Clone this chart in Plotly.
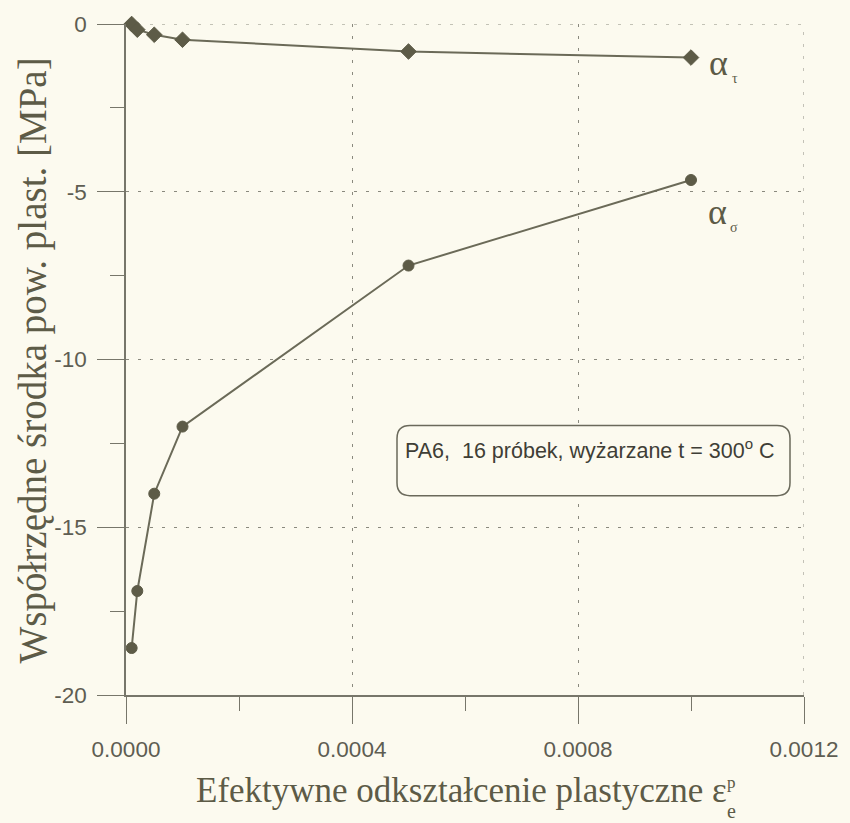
import plotly.graph_objects as go

# effective plastic strain at each measurement
strain = [0.00001, 0.00002, 0.00005, 0.0001, 0.0005, 0.001]
# centre coordinates of the yield surface [MPa]
alpha_tau = [0.0, -0.17, -0.32, -0.47, -0.82, -1.0]
alpha_sigma = [-18.6, -16.9, -14.0, -12.0, -7.2, -4.65]

x_ticks = [0.0, 0.0004, 0.0008, 0.0012]
x_tick_text = ["0.0000", "0.0004", "0.0008", "0.0012"]
y_ticks = [0, -5, -10, -15, -20]
y_tick_text = ["0", "-5", "-10", "-15", "-20"]
x_range = [0, 0.0012]
y_range = [-20, 0]

BG = "#fcfaef"
INK = "#5d5b47"
LINE = "#6b6a58"
AXIS = "#77766a"
GRID = "#8a897e"
GRID_DASH = "3px,9px"
TICKFONT = dict(family="Liberation Sans, Arial", size=22.5, color="#5e5d52")
SERIF = "Liberation Serif, Times New Roman"

W, H = 850, 823
ML, MR, MT, MB = 126, 46, 15, 128
PW, PH = W - ML - MR, H - MT - MB


def fx(px):
    return (px - ML) / PW


def fy(py):
    return (H - MB - py) / PH


fig = go.Figure()

fig.add_trace(go.Scatter(
    x=strain, y=alpha_tau, mode="lines+markers",
    line=dict(color=LINE, width=2),
    marker=dict(symbol="diamond", size=12, color=INK, line=dict(color=INK, width=1)),
    cliponaxis=False, showlegend=False,
))
fig.add_trace(go.Scatter(
    x=strain, y=alpha_sigma, mode="lines+markers",
    line=dict(color=LINE, width=2),
    marker=dict(symbol="circle", size=11, color=INK, line=dict(color=INK, width=1)),
    cliponaxis=False, showlegend=False,
))

grid = dict(showgrid=True, gridcolor=GRID, gridwidth=1, griddash=GRID_DASH)

fig.update_xaxes(
    range=x_range, tickvals=x_ticks, ticktext=x_tick_text,
    ticks="outside", ticklen=27, tickwidth=1.2, tickcolor=AXIS,
    minor=dict(dtick=0.0002, tick0=0, ticks="outside", ticklen=14,
               tickwidth=1.2, tickcolor=AXIS, showgrid=False),
    showline=True, linecolor=AXIS, linewidth=1.5, zeroline=False,
    tickfont=TICKFONT, ticklabelstandoff=6, **grid,
)
fig.update_yaxes(
    range=y_range, tickvals=y_ticks, ticktext=y_tick_text,
    ticks="outside", ticklen=27, tickwidth=1.2, tickcolor=AXIS,
    minor=dict(dtick=2.5, tick0=0, ticks="outside", ticklen=14,
               tickwidth=1.2, tickcolor=AXIS, showgrid=False),
    showline=True, linecolor=AXIS, linewidth=1.5, zeroline=False,
    tickfont=TICKFONT, ticklabelstandoff=6, **grid,
)

# dashed grid lines on the upper and right edges of the plot area
fig.add_shape(type="line", xref="x", yref="y",
              x0=x_range[0], x1=x_range[1], y0=y_range[1], y1=y_range[1],
              line=dict(color=GRID, width=1, dash=GRID_DASH), layer="below")
fig.add_shape(type="line", xref="x", yref="y",
              x0=x_range[1], x1=x_range[1], y0=y_range[0], y1=y_range[1],
              line=dict(color=GRID, width=1, dash=GRID_DASH), layer="below")

# rounded frame around the sample description
bx0, bx1, by0, by1 = 397, 790, 422, 493
r = 13
path = (
    f"M {fx(bx0 + r)},{fy(by0)} L {fx(bx1 - r)},{fy(by0)} "
    f"Q {fx(bx1)},{fy(by0)} {fx(bx1)},{fy(by0 + r)} "
    f"L {fx(bx1)},{fy(by1 - r)} Q {fx(bx1)},{fy(by1)} {fx(bx1 - r)},{fy(by1)} "
    f"L {fx(bx0 + r)},{fy(by1)} Q {fx(bx0)},{fy(by1)} {fx(bx0)},{fy(by1 - r)} "
    f"L {fx(bx0)},{fy(by0 + r)} Q {fx(bx0)},{fy(by0)} {fx(bx0 + r)},{fy(by0)} Z"
)
fig.add_shape(type="path", path=path, xref="paper", yref="paper",
              line=dict(color="#6a695b", width=1.5), fillcolor=BG, layer="above")


def label(px, py, text, size, family, color, angle=0):
    return dict(x=fx(px), y=fy(py), xref="paper", yref="paper",
                xanchor="center", yanchor="middle", text=text, textangle=angle,
                showarrow=False, font=dict(family=family, size=size, color=color))


ann = [
    label(590, 446, "PA6,  16 próbek, wyżarzane t = 300<sup>o</sup> C",
          21.5, "Liberation Sans, Arial", "#3f3e36"),
    # series labels
    label(718, 55, "α", 36, SERIF, INK),
    label(735, 70, "τ", 14, SERIF, INK),
    label(717, 206, "α", 36, SERIF, INK),
    label(734, 221, "σ", 14, SERIF, INK),
    # axis titles
    label(461, 792, "Efektywne odkształcenie plastyczne ε", 35, SERIF, INK),
    label(731, 784, "p", 17, SERIF, INK),
    label(731, 813, "e", 20, SERIF, INK),
    label(33, 356, "Współrzędne środka pow. plast. [MPa]", 39, SERIF, INK, angle=-90),
]

fig.update_layout(
    width=W, height=H,
    margin=dict(l=ML, r=MR, t=MT, b=MB),
    paper_bgcolor=BG, plot_bgcolor=BG,
    annotations=ann,
)

fig.write_html("out.html")
